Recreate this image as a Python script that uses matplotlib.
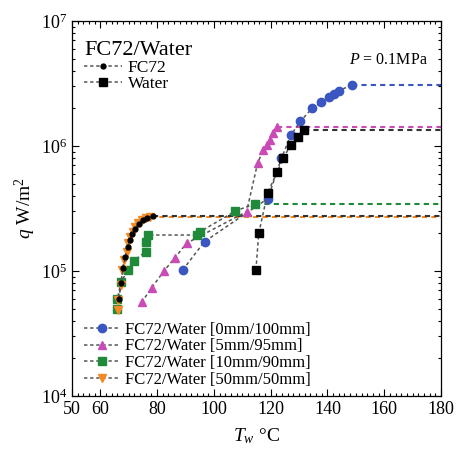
import numpy as np
import matplotlib
matplotlib.use('Agg')
import matplotlib.pyplot as plt
from matplotlib.ticker import LogLocator, MultipleLocator, NullFormatter

plt.rcParams['font.family'] = ['Liberation Serif', 'DejaVu Serif']
plt.rcParams['mathtext.fontset'] = 'custom'
plt.rcParams['mathtext.rm'] = 'Liberation Serif'
plt.rcParams['mathtext.it'] = 'Liberation Serif:italic'
plt.rcParams['mathtext.bf'] = 'Liberation Serif:bold'

# FC72 only
fc72_t = [66.5, 67.3, 68.0, 68.8, 69.6, 70.4, 71.3, 72.3, 73.5, 75.0, 76.6, 78.6]
fc72_q = [6.0e4, 8.0e4, 1.05e5, 1.3e5, 1.55e5, 1.78e5, 1.98e5, 2.18e5, 2.38e5, 2.55e5, 2.66e5, 2.77e5]

# water only
water_t = [114.8, 115.8, 118.9, 122.3, 124.4, 127.1, 129.7, 131.8]
water_q = [1.02e5, 2.0e5, 4.2e5, 6.2e5, 8.0e5, 1.02e6, 1.19e6, 1.34e6]

# 0mm/100mm
s0_t = [89.0, 96.7, 119.0, 123.8, 127.1, 130.5, 134.6, 137.9, 140.6, 142.3, 144.1, 148.5]
s0_q = [1.02e5, 1.72e5, 3.8e5, 8.0e5, 1.22e6, 1.58e6, 2.0e6, 2.24e6, 2.48e6, 2.6e6, 2.77e6, 3.08e6]

# 5mm/95mm
s5_t = [74.5, 78.1, 82.4, 86.3, 90.4, 111.5, 115.4, 117.4, 118.8, 119.7, 120.9, 122.1]
s5_q = [5.6e4, 7.35e4, 1.0e5, 1.28e5, 1.67e5, 2.98e5, 7.3e5, 9.3e5, 1.02e6, 1.12e6, 1.26e6, 1.42e6]

# 10mm/90mm
s10_t = [65.7, 66.0, 67.3, 69.8, 71.8, 76.0, 76.1, 76.9, 93.9, 95.1, 107.6, 114.4]
s10_q = [5.0e4, 6.0e4, 8.2e4, 1.02e5, 1.21e5, 1.43e5, 1.71e5, 1.94e5, 1.94e5, 2.06e5, 3.02e5, 3.45e5]

# 50mm/50mm
s50_t = [66.3, 66.3, 67.3, 67.7, 68.4, 69.3, 69.8, 70.4, 71.4, 72.2, 73.3, 74.5, 76.1, 77.5]
s50_q = [4.9e4, 5.9e4, 7.7e4, 1.02e5, 1.22e5, 1.43e5, 1.67e5, 1.88e5, 2.06e5, 2.26e5, 2.41e5, 2.56e5, 2.64e5, 2.69e5]

x_max = 180
line_col = '#555555'
dash = (0, (2.2, 1.8))

fig = plt.figure(figsize=(4.57, 4.57), dpi=100)
ax = fig.add_axes([0.1575, 0.1335, 0.8075, 0.8205])


def draw(t, q, color, marker, ms, label, ext=None):
    h, = ax.plot(t, q, color=line_col, linestyle=dash, linewidth=1.1,
                 marker=marker, markersize=ms, markerfacecolor=color,
                 markeredgecolor=color, label=label, zorder=3)
    # horizontal extension of the last value
    ax.plot([t[-1], x_max], [q[-1], q[-1]], color=ext or color,
            linestyle=(0, (2.5, 2.0)), linewidth=1.5, zorder=2)
    return h


h_s0 = draw(s0_t, s0_q, '#3a56c0', 'o', 6, 'FC72/Water [0mm/100mm]')
h_s5 = draw(s5_t, s5_q, '#c94bb5', '^', 6, 'FC72/Water [5mm/95mm]')
h_s10 = draw(s10_t, s10_q, '#1f8a3a', 's', 5.5, 'FC72/Water [10mm/90mm]')
h_s50 = draw(s50_t, s50_q, '#f58a25', 'v', 6, 'FC72/Water [50mm/50mm]')
h_w = draw(water_t, water_q, 'black', 's', 5.5, 'Water', ext='#333333')
h_f = draw(fc72_t, fc72_q, 'black', 'o', 3.5, 'FC72', ext='#333333')

ax.set_yscale('log')
ax.set_xlim(50, x_max)
ax.set_ylim(1e4, 1e7)
ax.set_xticks([50, 60, 80, 100, 120, 140, 160, 180])
ax.xaxis.set_minor_locator(MultipleLocator(2))
ax.yaxis.set_major_locator(LogLocator(base=10))
ax.yaxis.set_minor_locator(LogLocator(base=10, subs=np.arange(2, 10)))
ax.yaxis.set_minor_formatter(NullFormatter())
ax.tick_params(which='both', direction='in', top=True, right=True, labelsize=13, width=0.8)
ax.tick_params(which='major', length=5)
ax.tick_params(which='minor', length=2.5)
for s in ax.spines.values():
    s.set_linewidth(0.9)

ax.set_xlabel(r'$T_w$ °C', fontsize=14, labelpad=6)
ax.set_ylabel(r'$q$ W/m$^2$', fontsize=14, labelpad=2)

ax.text(0.965, 0.895, r'$P$ = 0.1MPa', transform=ax.transAxes, ha='right', va='center', fontsize=11.5)

leg1 = ax.legend(handles=[h_f, h_w], loc='upper left', bbox_to_anchor=(0.0, 0.98),
                 title='FC72/Water', title_fontsize=16, fontsize=12.5, frameon=False,
                 handlelength=2.2, handletextpad=0.3, labelspacing=0.0, borderaxespad=0.3)
leg1._legend_box.align = 'left'
ax.add_artist(leg1)
ax.legend(handles=[h_s0, h_s5, h_s10, h_s50], loc='lower left', bbox_to_anchor=(0.0, -0.01),
          fontsize=12, frameon=False, handlelength=2.2, handletextpad=0.3,
          labelspacing=0.05, borderaxespad=0.3)

fig.savefig('out.png', dpi=100)
